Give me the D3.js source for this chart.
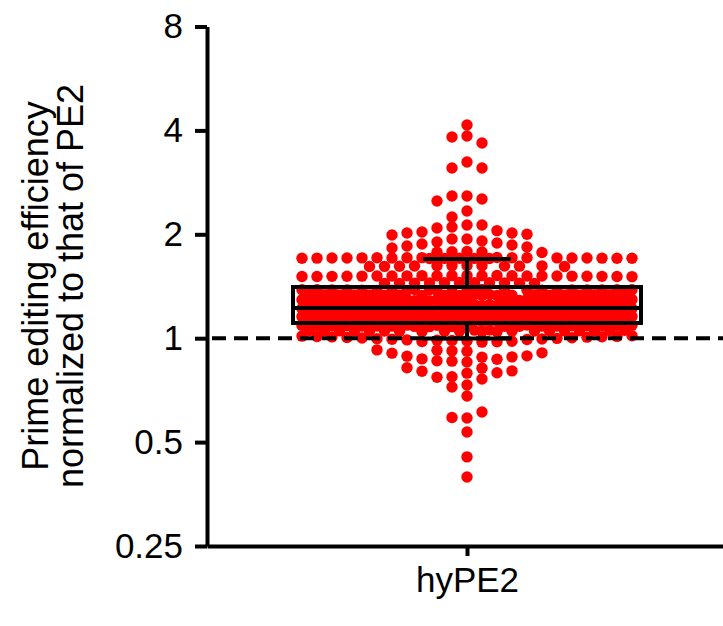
<!DOCTYPE html>
<html>
<head>
<meta charset="utf-8">
<script src="https://cdn.jsdelivr.net/npm/d3@7"></script>
<style>
  body { margin: 0; background: #fff; }
  svg { display: block; font-family: "Liberation Sans", Arial, sans-serif; }
</style>
</head>
<body>
<svg id="chart" width="723" height="626"></svg>
<script>
"use strict";

// === Data ===
const categories = ["hyPE2"];
const yTicks = [0.25, 0.5, 1, 2, 4, 8];
const yTickLabels = ["0.25", "0.5", "1", "2", "4", "8"];
const yTitle = ["Prime editing efficiency", "normalized to that of PE2"];

// whisker low, Q1, median, Q3, whisker high
const boxStats = [0.998, 1.107, 1.223, 1.407, 1.696];

const lowerTail = [0.396, 0.453, 0.535, 0.587, 0.589, 0.611, 0.680, 0.722, 0.732];
const lowerArc = [0.762, 0.771, 0.773, 0.792, 0.794, 0.802, 0.804, 0.819, 0.821];
const lowerRow = [0.853, 0.858, 0.860, 0.869, 0.871, 0.881, 0.883, 0.887, 0.889,
  0.905, 0.907, 0.917, 0.919, 0.923, 0.925];
const nearOne = [0.974, 0.976, 0.978, 0.980, 0.982, 0.985, 0.987, 0.989, 0.991, 0.993,
  0.995, 0.997, 0.999, 1.001, 1.003, 1.005, 1.007, 1.009, 1.010, 1.011, 1.012, 1.014, 1.016,
  1.044, 1.045, 1.046, 1.047, 1.047, 1.048, 1.048, 1.049, 1.049, 1.049, 1.050,
  1.050, 1.050, 1.051, 1.051, 1.052, 1.052, 1.053, 1.053, 1.054, 1.055, 1.056,
  1.080, 1.081, 1.082, 1.083, 1.083, 1.084, 1.084, 1.085, 1.085, 1.085, 1.086, 1.086,
  1.086, 1.087, 1.087, 1.088, 1.088, 1.089, 1.089, 1.090, 1.090, 1.091, 1.092];
const core = [
  1.117, 1.118, 1.119, 1.119, 1.120, 1.120, 1.121, 1.121, 1.122, 1.122, 1.122,
  1.123, 1.123, 1.123, 1.124, 1.124, 1.125, 1.125, 1.126, 1.126, 1.127, 1.128,
  1.146, 1.147, 1.148, 1.148, 1.149, 1.149, 1.150, 1.150, 1.151, 1.151, 1.152, 1.152,
  1.152, 1.153, 1.153, 1.154, 1.154, 1.155, 1.155, 1.156, 1.156, 1.157, 1.158,
  1.178, 1.179, 1.180, 1.180, 1.181, 1.181, 1.182, 1.182, 1.183, 1.183, 1.183,
  1.184, 1.184, 1.184, 1.185, 1.185, 1.186, 1.186, 1.187, 1.187, 1.188, 1.189,
  1.209, 1.210, 1.211, 1.211, 1.212, 1.212, 1.213, 1.213, 1.214, 1.214, 1.215, 1.215,
  1.215, 1.216, 1.216, 1.217, 1.217, 1.218, 1.218, 1.219, 1.219, 1.220, 1.221,
  1.243, 1.244, 1.245, 1.245, 1.246, 1.246, 1.247, 1.247, 1.248, 1.248, 1.248,
  1.249, 1.249, 1.249, 1.250, 1.250, 1.251, 1.251, 1.252, 1.252, 1.253, 1.254,
  1.284, 1.285, 1.286, 1.286, 1.287, 1.287, 1.288, 1.288, 1.289, 1.289, 1.290, 1.290,
  1.290, 1.291, 1.291, 1.292, 1.292, 1.293, 1.293, 1.294, 1.294, 1.295, 1.296,
  1.329, 1.330, 1.331, 1.331, 1.332, 1.332, 1.333, 1.333, 1.334, 1.334, 1.334,
  1.335, 1.335, 1.335, 1.336, 1.336, 1.337, 1.337, 1.338, 1.338, 1.339, 1.340,
  1.373, 1.374, 1.375, 1.375, 1.376, 1.376, 1.377, 1.377, 1.378, 1.378, 1.379, 1.379,
  1.379, 1.380, 1.380, 1.381, 1.381, 1.382, 1.382, 1.383, 1.383, 1.384, 1.385];
const upperRows = [
  1.440, 1.441, 1.442, 1.443, 1.444, 1.445, 1.446, 1.447, 1.448, 1.449, 1.450,
  1.508, 1.509, 1.510, 1.510, 1.511, 1.511, 1.512, 1.512, 1.513, 1.513, 1.514, 1.514,
  1.514, 1.515, 1.515, 1.516, 1.516, 1.517, 1.517, 1.518, 1.518, 1.519, 1.520,
  1.613, 1.614, 1.615, 1.616, 1.617, 1.618, 1.619, 1.620, 1.621, 1.622, 1.623, 1.624,
  1.701, 1.702, 1.703, 1.703, 1.704, 1.704, 1.705, 1.705, 1.706, 1.706, 1.707, 1.707,
  1.707, 1.708, 1.708, 1.709, 1.709, 1.710, 1.710, 1.711, 1.711, 1.712, 1.713,
  1.772, 1.775, 1.777, 1.780, 1.783];
const upperArc = [1.825, 1.838, 1.850, 1.862, 1.875, 1.888, 1.900, 1.913, 1.938, 1.938,
  1.991, 2.000, 2.017, 2.017, 2.031, 2.050, 2.086, 2.100, 2.128, 2.128];
const upperTail = [2.245, 2.336, 2.497, 2.531, 2.582, 2.582, 3.113, 3.113, 3.240,
  3.677, 3.828, 3.853, 4.147];

const values = [].concat(lowerTail, lowerArc, lowerRow, nearOne, core,
  upperRows, upperArc, upperTail);

// === Scales ===
const svg = d3.select("#chart");
const y = d3.scaleLog().base(2).domain([0.25, 8]).range([546, 26.5]);
const x = d3.scalePoint().domain(categories).range([207, 727]).padding(0.5);

// === Beeswarm: columns 15px apart, half-columns when crowded ===
// everything up to Q3 is laid out bottom-up, the rest top-down
function swarm(vals, cx, split) {
  const step = 15, maxK = 11, minD = 10;
  const full = [0], half = [];
  for (let k = 1; k <= maxK; k++) full.push(-k, k);
  for (let k = 0; k < maxK; k++) half.push(-(k + 0.5), k + 0.5);
  const placed = [];
  const nearest = (off, py) => {
    let m = Infinity;
    placed.forEach(p => {
      if (Math.abs(p.y - py) > 20) return;
      const d = Math.hypot((p.off - off) * step, p.y - py);
      if (d < m) m = d;
    });
    return m;
  };
  const sorted = vals.slice().sort((a, b) => a - b);
  const order = sorted.filter(v => v > split).reverse()
    .concat(sorted.filter(v => v <= split));
  order.forEach(v => {
    const py = y(v);
    let pick = full.find(o => nearest(o, py) >= minD);
    if (pick === undefined) pick = half.find(o => nearest(o, py) >= minD);
    if (pick === undefined) {
      let best = -Infinity;
      full.concat(half).forEach(o => {
        const s = Math.min(nearest(o, py), minD) - 0.05 * Math.abs(o);
        if (s > best) { best = s; pick = o; }
      });
    }
    placed.push({ v: v, y: py, off: pick });
  });
  return placed.map(p => ({ v: p.v, x: cx + p.off * step, y: p.y }));
}

const [wLo, q1, med, q3, wHi] = boxStats;
const cx = x(categories[0]);
const dots = swarm(values, cx, q3);

svg.append("g").selectAll("circle")
  .data(dots)
  .join("circle")
  .attr("cx", d => d.x)
  .attr("cy", d => d.y)
  .attr("r", 5.7)
  .attr("fill", "#ff0000");

// === Reference line at 1 ===
svg.append("line")
  .attr("x1", 212).attr("x2", 723)
  .attr("y1", y(1)).attr("y2", y(1))
  .attr("stroke", "#000").attr("stroke-width", 4)
  .attr("stroke-dasharray", "14,8");

// === Box and whiskers ===
const boxHalf = 174, capHalf = 44;
const box = svg.append("g").attr("stroke", "#000").attr("stroke-width", 4).attr("fill", "none");
box.append("rect")
  .attr("x", cx - boxHalf).attr("width", boxHalf * 2)
  .attr("y", y(q3)).attr("height", y(q1) - y(q3));
box.append("line").attr("x1", cx - boxHalf).attr("x2", cx + boxHalf)
  .attr("y1", y(med)).attr("y2", y(med));
box.append("line").attr("x1", cx).attr("x2", cx).attr("y1", y(q3)).attr("y2", y(wHi));
box.append("line").attr("x1", cx).attr("x2", cx).attr("y1", y(q1)).attr("y2", y(wLo));
box.append("line").attr("x1", cx - capHalf).attr("x2", cx + capHalf)
  .attr("y1", y(wHi)).attr("y2", y(wHi));
box.append("line").attr("x1", cx - capHalf).attr("x2", cx + capHalf)
  .attr("y1", y(wLo)).attr("y2", y(wLo));

// === Axes ===
const yAxis = svg.append("g")
  .attr("transform", "translate(207,0)")
  .call(d3.axisLeft(y).tickValues(yTicks)
    .tickFormat((d, i) => yTickLabels[i]).tickSize(12).tickPadding(12).tickSizeOuter(0));

const xAxis = svg.append("g")
  .attr("transform", "translate(0,546)")
  .call(d3.axisBottom(x).tickSize(10).tickPadding(11).tickSizeOuter(0));

[yAxis, xAxis].forEach(g => {
  g.select(".domain").attr("stroke", "#000").attr("stroke-width", 4);
  g.selectAll(".tick line").attr("stroke", "#000").attr("stroke-width", 4);
  g.selectAll(".tick text").attr("fill", "#000")
    .style("font-size", "35px").style("font-family", "'Liberation Sans', Arial, sans-serif");
});

// === Y title ===
const title = svg.append("text")
  .attr("transform", "rotate(-90)")
  .attr("text-anchor", "middle")
  .style("font-size", "36px")
  .attr("fill", "#000");
title.selectAll("tspan")
  .data(yTitle)
  .join("tspan")
  .attr("x", -286)
  .attr("y", (d, i) => 48 + i * 35)
  .text(d => d);
</script>
</body>
</html>
